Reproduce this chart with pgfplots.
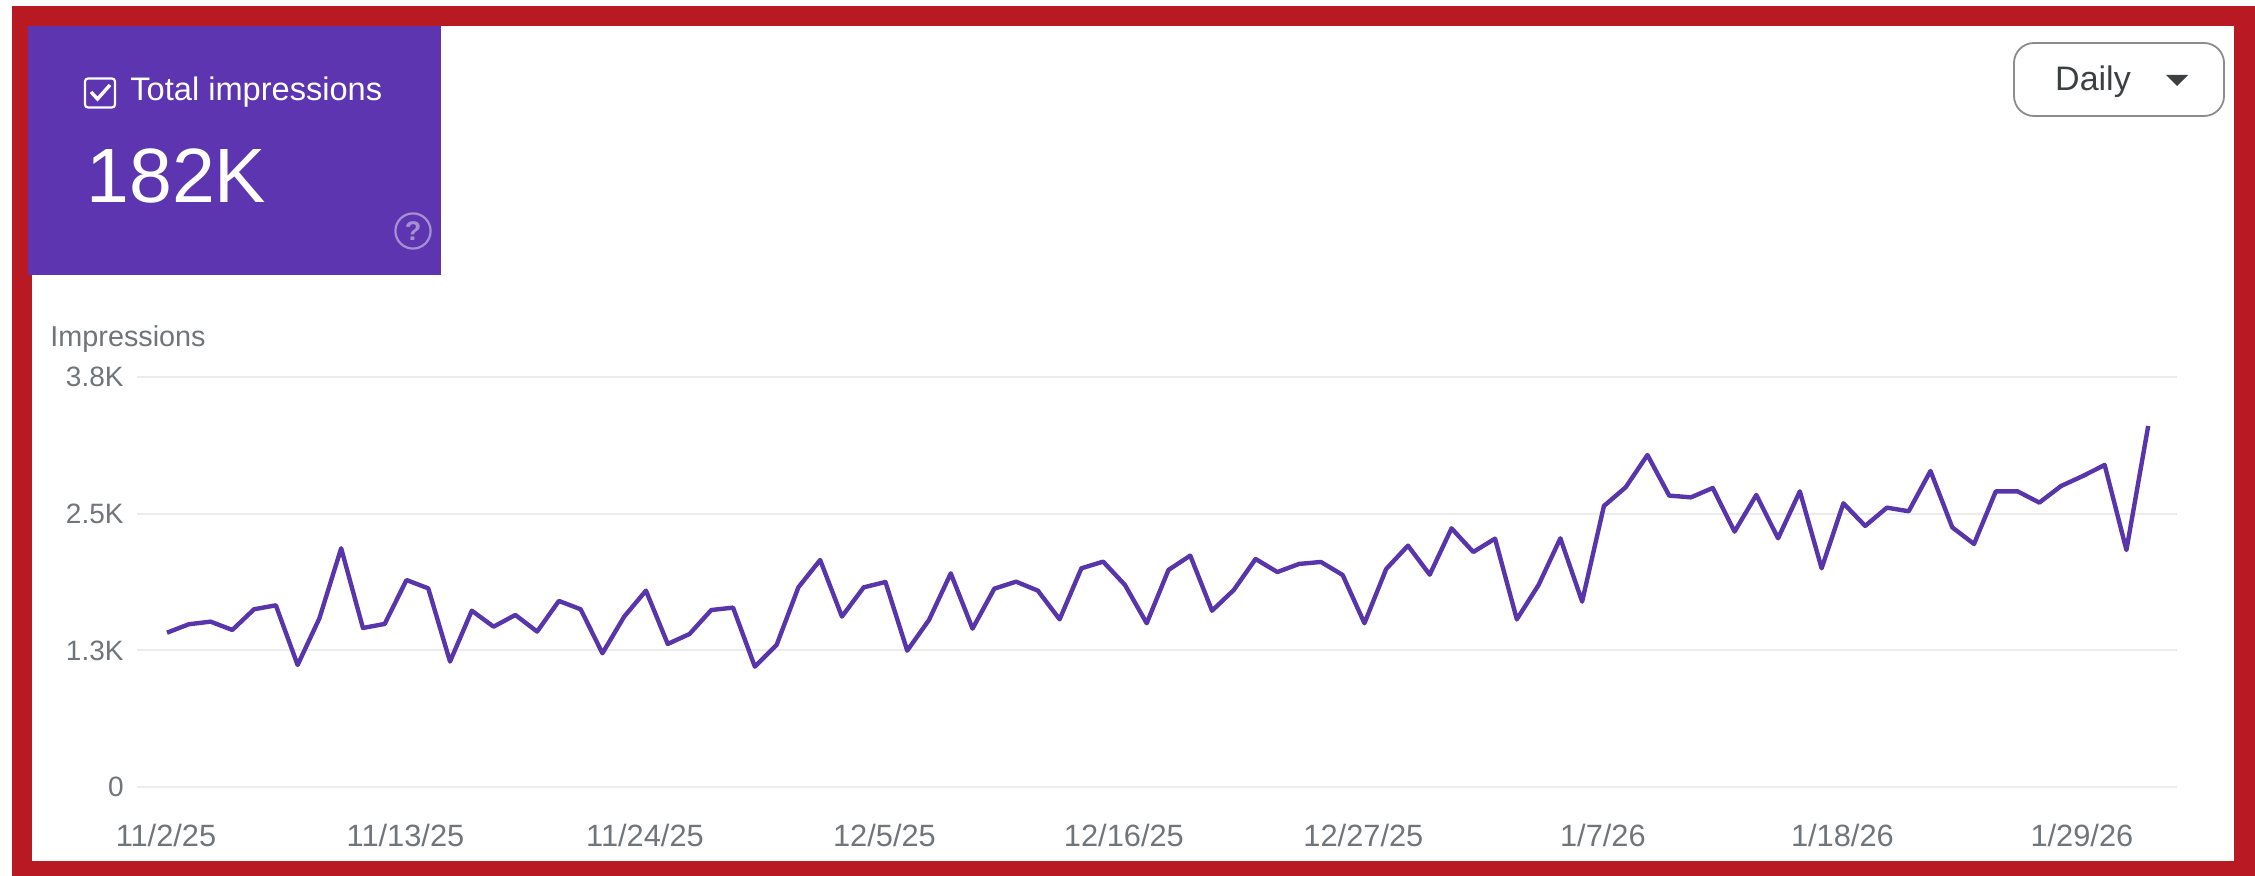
\documentclass[border=0pt]{standalone}
\usepackage{fontspec}
\setmainfont{Liberation Sans}
\usepackage{pgfplots}
\pgfplotsset{compat=1.18}
\usepackage{pgfplotstable}
\definecolor{frame}{RGB}{185,25,35}
\definecolor{boxp}{RGB}{94,53,177}
\definecolor{linep}{RGB}{88,53,170}
\definecolor{gridc}{RGB}{236,236,236}
\definecolor{labc}{RGB}{112,117,122}
\definecolor{helpc}{RGB}{165,145,210}
\definecolor{btnc}{RGB}{60,64,67}
\pgfplotstableread{
i v
0 1412
1 1489
2 1513
3 1437
4 1626
5 1662
6 1117
7 1543
8 2183
9 1455
10 1492
11 1893
12 1817
13 1148
14 1613
15 1467
16 1574
17 1422
18 1702
19 1626
20 1224
21 1559
22 1796
23 1309
24 1400
25 1619
26 1641
27 1102
28 1300
29 1826
30 2076
31 1559
32 1826
33 1875
34 1248
35 1528
36 1954
37 1449
38 1814
39 1878
40 1796
41 1534
42 2000
43 2061
44 1848
45 1498
46 1985
47 2116
48 1613
49 1802
50 2085
51 1966
52 2040
53 2058
54 1939
55 1498
56 1994
57 2207
58 1942
59 2365
60 2149
61 2271
62 1534
63 1848
64 2274
65 1696
66 2569
67 2740
68 3035
69 2664
70 2648
71 2734
72 2335
73 2670
74 2274
75 2703
76 2000
77 2594
78 2387
79 2554
80 2521
81 2889
82 2374
83 2222
84 2703
85 2703
86 2600
87 2752
88 2843
89 2944
90 2167
91 3300
}\impr
\begin{document}
\begin{tikzpicture}
\begin{scope}[x=0.5pt,y=-0.5pt]
\path[fill=white] (0,0) rectangle (2255,876);
\fill[frame] (12,6) rectangle (2255,876);
\fill[white] (32,26) rectangle (2234,860.5);
\fill[boxp] (28,26) rectangle (441,275);
% checkbox
\draw[white,line width=1.1pt,rounded corners=1.5pt] (85,78.5) rectangle (115,107.5);
\draw[white,line width=1.7pt] (91,92) -- (97.5,99) -- (110,85);
\node[anchor=base west,inner sep=0pt,text=white,font=\fontsize{16.3}{16.3}\selectfont] at (130,101) {Total impressions};
\node[anchor=base west,inner sep=0pt,text=white,font=\fontsize{38.5}{38.5}\selectfont] at (86,203) {182K};
\draw[helpc,line width=1.1pt] (413,231) circle (8.8pt);
\node[text=helpc,inner sep=0pt,font=\bfseries\fontsize{13.5}{13.5}\selectfont] at (413,231) {?};
\node[anchor=base west,inner sep=0pt,text=labc,font=\fontsize{14.4}{14.4}\selectfont] at (50,347) {Impressions};
% button
\draw[black!45,line width=0.9pt,rounded corners=10pt] (2014,43) rectangle (2224,116);
\node[anchor=base,inner sep=0pt,text=btnc,font=\fontsize{17}{17}\selectfont] at (2093,91) {Daily};
\fill[btnc] (2166,75) -- (2188,75) -- (2177,86) -- cycle;
\end{scope}
\begin{axis}[
  at={(68.5pt,-393.65pt)},anchor=south west,
  scale only axis,width=1019.75pt,height=205.3pt,
  xmin=-1.378,xmax=92.3,ymin=0,ymax=3750,
  axis line style={draw=none},
  tick style={draw=none},
  ymajorgrids,
  grid style={gridc,line width=1pt},
  xtick={0,11,22,33,44,55,66,77,88},
  xticklabels={11/2/25,11/13/25,11/24/25,12/5/25,12/16/25,12/27/25,1/7/26,1/18/26,1/29/26},
  ytick={0,1250,2500,3750},
  yticklabels={0,1.3K,2.5K,3.8K},
  xticklabel style={anchor=base,inner sep=0pt,xshift=-0.5pt,yshift=-29.5pt,text=labc,font=\fontsize{15.4}{15.4}\selectfont},
  yticklabel style={anchor=east,inner sep=0pt,xshift=-6.5pt,text=labc,font=\fontsize{14}{14}\selectfont},
  clip=false,
]
\addplot[linep,line width=2.2pt,line join=round] table[x=i,y=v] {\impr};
\end{axis}
\end{tikzpicture}
\end{document}
